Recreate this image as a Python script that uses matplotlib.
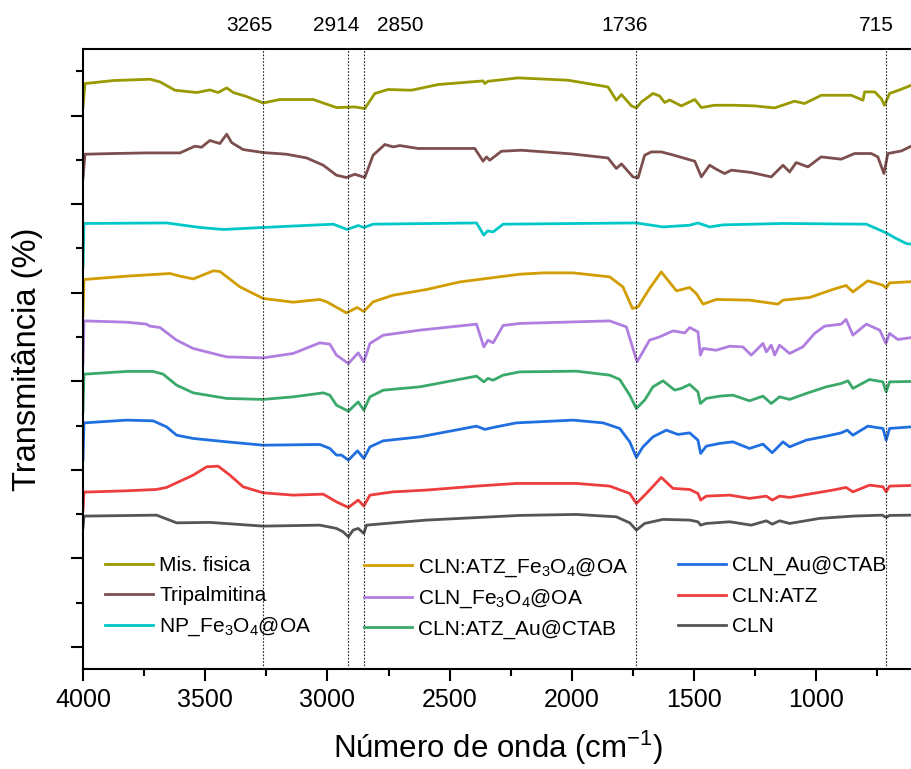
"""
FTIR spectra (stacked) of the CLN formulations
"""

import matplotlib
matplotlib.use('Agg')
import matplotlib.pyplot as plt
from matplotlib.ticker import MultipleLocator

plt.rcParams['font.family'] = ['Liberation Sans', 'DejaVu Sans']
plt.rcParams['mathtext.fontset'] = 'custom'
plt.rcParams['mathtext.rm'] = 'Liberation Sans'
plt.rcParams['mathtext.it'] = 'Liberation Sans:italic'
plt.rcParams['mathtext.default'] = 'regular'

## spectra (wavenumber in cm-1, offset transmittance)
wn_mis = [4000, 3992, 3876, 3726, 3685, 3624, 3535, 3481, 3447, 3412, 3385, 3331, 3263, 3194, 3058,
          2963, 2888, 2847, 2806, 2752, 2656, 2547, 2363, 2356, 2343, 2220, 2016, 1852, 1818, 1797,
          1756, 1736, 1715, 1668, 1641, 1620, 1600, 1552, 1497, 1470, 1416, 1334, 1252, 1170, 1089,
          1048, 979, 857, 809, 802, 761, 734, 721, 700, 652, 611]
t_mis = [6.098, 6.362, 6.396, 6.411, 6.381, 6.287, 6.261, 6.290, 6.261, 6.313, 6.261, 6.216, 6.143, 6.182, 6.182,
         6.091, 6.098, 6.080, 6.250, 6.295, 6.287, 6.351, 6.392, 6.362, 6.388, 6.426, 6.400, 6.324, 6.174, 6.238,
         6.110, 6.087, 6.155, 6.250, 6.222, 6.148, 6.177, 6.110, 6.182, 6.091, 6.117, 6.117, 6.110, 6.087, 6.163,
         6.137, 6.230, 6.230, 6.174, 6.268, 6.268, 6.193, 6.117, 6.250, 6.298, 6.343]

wn_tri = [4000, 3992, 3876, 3740, 3603, 3542, 3515, 3481, 3440, 3412, 3392, 3345, 3263, 3167, 3085,
          3017, 2963, 2922, 2888, 2847, 2813, 2765, 2731, 2704, 2629, 2397, 2363, 2349, 2336, 2288,
          2206, 2002, 1852, 1818, 1797, 1750, 1729, 1702, 1675, 1634, 1593, 1497, 1470, 1436, 1409,
          1375, 1347, 1266, 1184, 1136, 1109, 1082, 1034, 980, 898, 843, 775, 748, 723, 707, 652, 611]
t_tri = [5.290, 5.564, 5.572, 5.579, 5.579, 5.655, 5.643, 5.719, 5.685, 5.790, 5.696, 5.617, 5.583, 5.564, 5.522,
         5.440, 5.327, 5.301, 5.338, 5.301, 5.553, 5.674, 5.647, 5.662, 5.629, 5.629, 5.485, 5.534, 5.496, 5.598,
         5.609, 5.568, 5.522, 5.403, 5.455, 5.308, 5.297, 5.553, 5.590, 5.590, 5.561, 5.485, 5.308, 5.440, 5.395,
         5.346, 5.384, 5.358, 5.308, 5.440, 5.364, 5.470, 5.421, 5.534, 5.508, 5.572, 5.572, 5.534, 5.346, 5.572,
         5.601, 5.655]

wn_np = [4000, 3996, 3658, 3522, 3426, 3263, 2976, 2919, 2874, 2851, 2813, 2390, 2360, 2345, 2322,
         2281, 1736, 1627, 1518, 1484, 1436, 1382, 1136, 795, 714, 673, 632, 610]
t_np = [4.292, 4.782, 4.788, 4.737, 4.714, 4.737, 4.774, 4.714, 4.759, 4.737, 4.774, 4.788, 4.650, 4.698, 4.687,
        4.774, 4.788, 4.743, 4.762, 4.788, 4.743, 4.766, 4.782, 4.774, 4.676, 4.612, 4.556, 4.548]

wn_atzfe = [4000, 3996, 3821, 3644, 3603, 3549, 3467, 3440, 3358, 3263, 3140, 3031, 3003, 2922, 2878,
            2851, 2813, 2731, 2595, 2458, 2213, 2118, 1995, 1845, 1791, 1752, 1729, 1682, 1634, 1572,
            1518, 1491, 1463, 1409, 1273, 1157, 1136, 1027, 933, 878, 850, 789, 727, 714, 700, 610]
t_atzfe = [3.746, 4.149, 4.187, 4.217, 4.187, 4.156, 4.247, 4.240, 4.066, 3.935, 3.893, 3.924, 3.897, 3.772, 3.833,
           3.788, 3.897, 3.972, 4.036, 4.122, 4.209, 4.224, 4.224, 4.179, 4.066, 3.822, 3.840, 4.048, 4.235, 4.021,
           4.059, 3.991, 3.871, 3.924, 3.916, 3.871, 3.916, 3.946, 4.036, 4.082, 4.009, 4.134, 4.085, 4.053, 4.111,
           4.125]

wn_clnfe = [4000, 3996, 3821, 3740, 3726, 3685, 3617, 3549, 3412, 3263, 3140, 3031, 2990, 2963, 2914,
            2874, 2851, 2826, 2772, 2622, 2390, 2360, 2343, 2322, 2281, 2213, 1845, 1777, 1752, 1733,
            1682, 1641, 1586, 1538, 1518, 1484, 1474, 1463, 1409, 1354, 1300, 1266, 1218, 1204, 1184,
            1170, 1150, 1109, 1055, 1007, 966, 898, 878, 850, 795, 740, 715, 700, 666, 610]
t_clnfe = [3.201, 3.682, 3.667, 3.645, 3.622, 3.607, 3.464, 3.370, 3.275, 3.264, 3.314, 3.434, 3.419, 3.295, 3.201,
           3.321, 3.219, 3.427, 3.520, 3.577, 3.645, 3.388, 3.464, 3.434, 3.630, 3.653, 3.682, 3.614, 3.388, 3.219,
           3.464, 3.501, 3.569, 3.546, 3.607, 3.558, 3.295, 3.370, 3.351, 3.396, 3.388, 3.295, 3.427, 3.332, 3.408,
           3.295, 3.408, 3.314, 3.388, 3.540, 3.622, 3.645, 3.698, 3.521, 3.645, 3.577, 3.427, 3.540, 3.472, 3.494]

wn_atzau = [4000, 3996, 3821, 3713, 3672, 3617, 3549, 3412, 3263, 3140, 3017, 2990, 2963, 2914, 2874,
            2851, 2826, 2772, 2622, 2390, 2360, 2343, 2322, 2281, 2213, 1981, 1845, 1804, 1763, 1736,
            1702, 1668, 1627, 1579, 1552, 1518, 1484, 1474, 1450, 1395, 1341, 1273, 1218, 1184, 1150,
            1109, 1041, 959, 898, 870, 850, 782, 727, 714, 700, 610]
t_atzau = [2.655, 3.080, 3.111, 3.111, 3.080, 2.956, 2.869, 2.806, 2.795, 2.824, 2.869, 2.843, 2.730, 2.662, 2.767,
           2.674, 2.824, 2.899, 2.937, 3.058, 2.993, 3.032, 3.012, 3.069, 3.106, 3.114, 3.069, 3.020, 2.843, 2.693,
           2.787, 2.937, 3.005, 2.900, 2.919, 2.964, 2.880, 2.749, 2.806, 2.832, 2.843, 2.779, 2.832, 2.749, 2.824,
           2.795, 2.862, 2.937, 2.975, 3.005, 2.919, 3.020, 2.993, 2.880, 2.993, 2.998]

wn_au = [4000, 3996, 3821, 3713, 3658, 3617, 3549, 3412, 3263, 3031, 2990, 2963, 2942, 2914, 2877,
         2851, 2826, 2772, 2622, 2390, 2356, 2322, 2227, 1995, 1872, 1804, 1763, 1736, 1709, 1668,
         1613, 1566, 1518, 1484, 1473, 1450, 1395, 1341, 1273, 1218, 1180, 1136, 1109, 1041, 959,
         898, 873, 850, 789, 727, 714, 700, 610]
t_au = [2.109, 2.530, 2.561, 2.553, 2.485, 2.391, 2.354, 2.316, 2.278, 2.286, 2.241, 2.166, 2.166, 2.109, 2.214,
        2.128, 2.259, 2.327, 2.372, 2.493, 2.456, 2.478, 2.530, 2.561, 2.530, 2.467, 2.316, 2.140, 2.259, 2.372,
        2.448, 2.399, 2.417, 2.335, 2.185, 2.267, 2.298, 2.316, 2.241, 2.290, 2.192, 2.316, 2.259, 2.335, 2.380,
        2.417, 2.448, 2.391, 2.493, 2.467, 2.335, 2.467, 2.485]

wn_atz = [4000, 3996, 3821, 3699, 3658, 3549, 3494, 3447, 3399, 3345, 3263, 3140, 3017, 2963, 2914,
          2874, 2851, 2826, 2731, 2595, 2390, 2227, 1981, 1845, 1763, 1736, 1695, 1634, 1586, 1518,
          1484, 1473, 1450, 1354, 1273, 1204, 1180, 1150, 1109, 1014, 932, 878, 850, 782, 727, 714,
          700, 610]
t_atz = [1.545, 1.748, 1.763, 1.778, 1.801, 1.940, 2.034, 2.041, 1.940, 1.808, 1.740, 1.714, 1.725, 1.638, 1.575,
         1.658, 1.590, 1.714, 1.751, 1.771, 1.816, 1.846, 1.846, 1.816, 1.733, 1.620, 1.733, 1.914, 1.790, 1.778,
         1.733, 1.658, 1.703, 1.714, 1.677, 1.703, 1.658, 1.703, 1.688, 1.733, 1.771, 1.801, 1.751, 1.827, 1.808,
         1.751, 1.816, 1.823]

wn_cln = [4000, 3996, 3699, 3617, 3481, 3263, 3031, 2963, 2936, 2914, 2895, 2874, 2851, 2840, 2731,
          2595, 2458, 2213, 1981, 1818, 1763, 1736, 1702, 1627, 1518, 1484, 1473, 1450, 1354, 1266,
          1204, 1180, 1150, 1109, 987, 850, 730, 714, 700, 610]
t_cln = [1.341, 1.477, 1.488, 1.401, 1.406, 1.364, 1.375, 1.338, 1.300, 1.243, 1.319, 1.338, 1.281, 1.375, 1.401,
         1.432, 1.451, 1.485, 1.496, 1.469, 1.401, 1.319, 1.394, 1.440, 1.432, 1.413, 1.375, 1.394, 1.413, 1.375,
         1.424, 1.386, 1.424, 1.394, 1.451, 1.477, 1.488, 1.462, 1.485, 1.488]

names = ['Mis. fisica', 'Tripalmitina', 'NP_Fe$_3$O$_4$@OA',
         'CLN:ATZ_Fe$_3$O$_4$@OA', 'CLN_Fe$_3$O$_4$@OA', 'CLN:ATZ_Au@CTAB',
         'CLN_Au@CTAB', 'CLN:ATZ', 'CLN']
wns = [wn_mis, wn_tri, wn_np, wn_atzfe, wn_clnfe, wn_atzau, wn_au, wn_atz, wn_cln]
ts = [t_mis, t_tri, t_np, t_atzfe, t_clnfe, t_atzau, t_au, t_atz, t_cln]
colors = ['#999900', '#7d4e4e', '#00c8c8', '#d19d00', '#b07ee0', '#3aa96a', '#1f6fe0', '#ee3d3d', '#555555']

# marked bands and where their labels sit
peaks = [3265, 2914, 2850, 1736, 715]
peak_labels = ['3265', '2914', '2850', '1736', '715']
label_x = [3317, 2966, 2700, 1785, 755]

fig = plt.figure(figsize=(9.12, 7.69), dpi=100)
ax = fig.add_axes([0.091, 0.130, 0.9112, 0.806])

lines = []
for wn, t, c, name in zip(wns, ts, colors, names):
    l, = ax.plot(wn, t, color=c, lw=2.0, label=name, solid_joinstyle='round')
    lines.append(l)

for p in peaks:
    ax.axvline(p, color='#222222', lw=0.8, ls=(0, (1.5, 1.5)), zorder=3)
for lx, lab in zip(label_x, peak_labels):
    ax.text(lx, 1.039, lab, transform=ax.get_xaxis_transform(), ha='center', va='center', fontsize=15)

ax.set_xlim(4000, 600)
ax.set_ylim(-0.25, 6.75)
ax.xaxis.set_major_locator(MultipleLocator(500))
ax.xaxis.set_minor_locator(MultipleLocator(250))
ax.yaxis.set_major_locator(MultipleLocator(1))
ax.yaxis.set_minor_locator(MultipleLocator(0.5))
ax.tick_params(which='major', direction='out', length=8.5, width=1.5, labelsize=18, pad=5)
ax.tick_params(which='minor', direction='out', length=5, width=1.5)
ax.tick_params(axis='y', labelleft=False)
for s in ax.spines.values():
    s.set_linewidth(1.5)

ax.set_xlabel('Número de onda (cm$^{-1}$)', fontsize=22.5, labelpad=12)
ax.set_ylabel('Transmitância (%)', fontsize=23.5)
ax.yaxis.set_label_coords(-0.048, 0.5)

# one legend per column so the rows line up
col_x = [0.0265, 0.338, 0.716]
col_sp = [0.52, 0.44, 0.55]
for i in range(3):
    leg = ax.legend(handles=lines[3 * i:3 * i + 3], frameon=False, fontsize=15, loc='upper left',
                    bbox_to_anchor=(col_x[i], 0.182), borderpad=0, borderaxespad=0,
                    handlelength=2.3, handletextpad=0.3, labelspacing=col_sp[i])
    if i < 2:
        ax.add_artist(leg)

fig.savefig('out.png', dpi=100)
